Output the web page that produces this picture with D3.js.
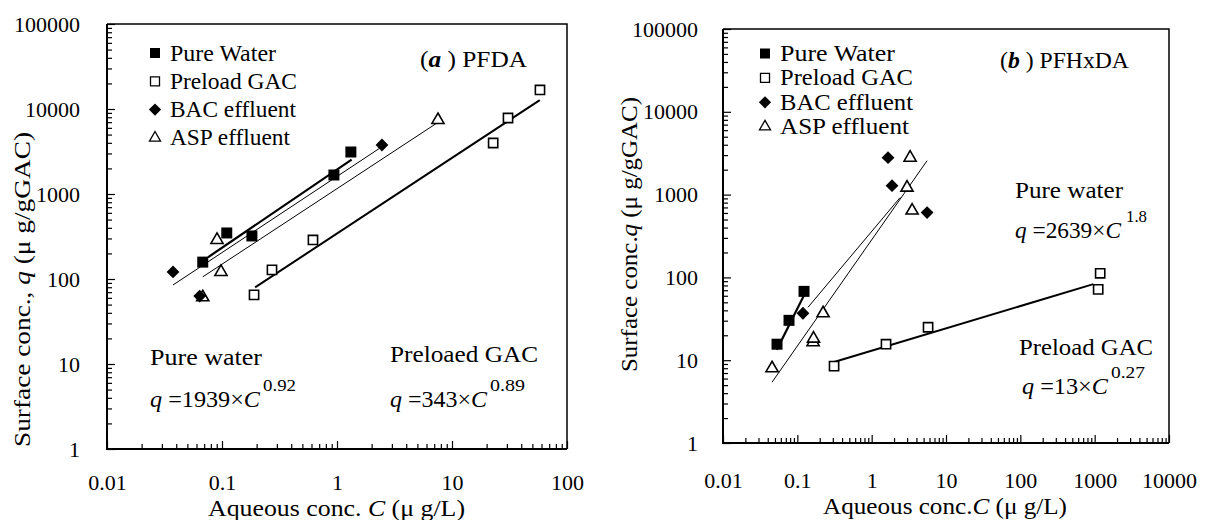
<!DOCTYPE html>
<html>
<head>
<meta charset="utf-8">
<script src="https://cdn.jsdelivr.net/npm/d3@7"></script>
<style>
  body { margin: 0; background: #fff; }
  svg { display: block; }
  text { font-family: "Liberation Serif", "Times New Roman", serif; fill: #000; }
</style>
</head>
<body>
<svg id="chart" width="1205" height="520"></svg>
<script>
const SERIF = '"Liberation Serif", "Times New Roman", serif';

// ---------- (a) PFDA : [C (ug/L), q (ug/gGAC)] ----------
const pfdaPureWater   = [[0.068, 158], [0.11, 348], [0.182, 321], [0.94, 1674], [1.32, 3120]];
const pfdaPreloadGAC  = [[0.19, 65], [0.272, 128], [0.618, 288], [22.8, 3980], [30.7, 7840], [58.2, 16750]];
const pfdaBACEffluent = [[0.0375, 121], [0.064, 63], [2.46, 3770]];
const pfdaASPEffluent = [[0.0905, 288], [0.098, 121], [0.068, 61], [7.55, 7430]];
// Freundlich fits q = K * C^n  ->  [K, n], and the C range each is drawn over
const pfdaPureFit     = [1939, 0.92];
const pfdaPureSpan    = [0.0755, 1.34];
const pfdaPreloadFit  = [343, 0.89];
const pfdaPreloadSpan = [0.194, 58];
// trend lines through the effluent sets (end points)
const pfdaBACLine = [[0.0375, 85], [2.46, 3600]];
const pfdaASPLine = [[0.068, 106], [7.4, 6840]];

// ---------- (b) PFHxDA ----------
const pfhxdaPureWater   = [[0.0533, 15.6], [0.0773, 30.3], [0.123, 67.8]];
const pfhxdaPreloadGAC  = [[0.312, 8.47], [1.56, 15.6], [5.74, 25], [1186, 112], [1115, 71.7]];
const pfhxdaBACEffluent = [[0.119, 36.9], [1.66, 2790], [1.88, 1283], [5.57, 607]];
const pfhxdaASPEffluent = [[0.0457, 8.0], [0.163, 16.5], [0.165, 18.2], [0.222, 36.9], [3.29, 2790], [2.99, 1214], [3.5, 642]];
const pfhxdaPureFit     = [2639, 1.8];
const pfhxdaPureSpan    = [0.053, 0.123];
const pfhxdaPreloadFit  = [13, 0.27];
const pfhxdaPreloadSpan = [0.312, 960];
const pfhxdaBACLine = [[0.139, 43.5], [2.41, 920]];
const pfhxdaASPLine = [[0.0457, 5.43], [5.57, 2570]];

// ---------- axes ----------
const yTicks       = [1, 10, 100, 1000, 10000, 100000];
const yTickLabels  = ["1", "10", "100", "1000", "10000", "100000"];
const xTicksA      = [0.01, 0.1, 1, 10, 100];
const xTickLabelsA = ["0.01", "0.1", "1", "10", "100"];
const xTicksB      = [0.01, 0.1, 1, 10, 100, 1000, 10000];
const xTickLabelsB = ["0.01", "0.1", "1", "10", "100", "1000", "10000"];

const legendNames = ["Pure Water", "Preload GAC", "BAC effluent", "ASP effluent"];

const svg = d3.select("#chart");

// marker painters
const markers = {
  pure:    (sel, s) => sel.append("path").attr("d", d3.symbol(d3.symbolSquare, s * s)())
                         .attr("fill", "#000").attr("stroke", "none"),
  preload: (sel, s) => sel.append("path").attr("d", d3.symbol(d3.symbolSquare, s * s)())
                         .attr("fill", "#fff").attr("stroke", "#000").attr("stroke-width", 1.6),
  bac:     (sel, s) => sel.append("path").attr("d", d3.symbol(d3.symbolSquare, s * s * 0.62)())
                         .attr("transform", "rotate(45)").attr("fill", "#000"),
  asp:     (sel, s) => sel.append("path").attr("d", d3.symbol(d3.symbolTriangle, s * s * 0.48)())
                         .attr("fill", "#fff").attr("stroke", "#000").attr("stroke-width", 1.6)
};

function minorTicks(domain) {
  const out = [];
  const lo = Math.round(Math.log10(domain[0])), hi = Math.round(Math.log10(domain[1]));
  for (let e = lo; e < hi; e++) for (let m = 2; m <= 9; m++) out.push(m * Math.pow(10, e));
  return out;
}

function txt(g, x, y, parts, size, len) {
  const t = g.append("text").attr("x", x).attr("y", y)
    .attr("font-size", size).attr("font-family", SERIF);
  parts.forEach(p => {
    const s = t.append("tspan").text(p.t);
    if (p.i) s.attr("font-style", "italic");
    if (p.b) s.attr("font-weight", "bold");
  });
  if (len) t.attr("textLength", len).attr("lengthAdjust", "spacingAndGlyphs");
  return t;
}

function drawPanel(p) {
  const x = d3.scaleLog().domain(p.xDomain).range(p.xRange);
  const y = d3.scaleLog().domain([1, 100000]).range(p.yRange);
  const g = svg.append("g");

  // minor ticks
  g.append("g").attr("transform", `translate(0,${p.yRange[0]})`)
    .call(d3.axisBottom(x).tickValues(minorTicks(p.xDomain)).tickSizeInner(-5).tickSizeOuter(0).tickFormat(""))
    .call(a => a.select(".domain").remove());
  g.append("g").attr("transform", `translate(${p.xRange[0]},0)`)
    .call(d3.axisLeft(y).tickValues(minorTicks([1, 100000])).tickSizeInner(-5).tickSizeOuter(0).tickFormat(""))
    .call(a => a.select(".domain").remove());

  // major ticks with labels
  const xa = g.append("g").attr("transform", `translate(0,${p.yRange[0]})`)
    .call(d3.axisBottom(x).tickValues(p.xTicks).tickSizeInner(-8).tickSizeOuter(0)
      .tickPadding(p.xPad).tickFormat((d, i) => p.xLabels[i]));
  xa.select(".domain").remove();
  xa.attr("font-family", SERIF).attr("font-size", 22);
  xa.selectAll("text").attr("font-size", 22).attr("font-family", SERIF);
  const ya = g.append("g").attr("transform", `translate(${p.xRange[0]},0)`)
    .call(d3.axisLeft(y).tickValues(yTicks).tickSizeInner(-8).tickSizeOuter(0)
      .tickPadding(p.yPad).tickFormat((d, i) => yTickLabels[i]));
  ya.select(".domain").remove();
  ya.attr("font-family", SERIF).attr("font-size", 22);
  ya.selectAll("text").attr("font-size", 22).attr("font-family", SERIF);
  g.selectAll(".tick line").attr("stroke", "#000").attr("stroke-width", 1.2);

  // plot frame
  const [x0, x1] = p.xRange, [yb, yt] = p.yRange;
  g.append("path").attr("d", `M${x0},${yt}H${x1}V${yb}`).attr("fill", "none")
    .attr("stroke", "#000").attr("stroke-width", 1.5);
  g.append("path").attr("d", `M${x0},${yt}V${yb}H${x1}`).attr("fill", "none")
    .attr("stroke", "#000").attr("stroke-width", 2);

  // fitted lines
  const line = d3.line().x(d => x(d[0])).y(d => y(d[1]));
  const fitPts = (fit, span) => span.map(c => [c, fit[0] * Math.pow(c, fit[1])]);
  g.append("path").attr("d", line(p.bacLine)).attr("fill", "none").attr("stroke", "#000").attr("stroke-width", 1);
  g.append("path").attr("d", line(p.aspLine)).attr("fill", "none").attr("stroke", "#000").attr("stroke-width", 1);
  g.append("path").attr("d", line(fitPts(p.pureFit, p.pureSpan))).attr("fill", "none").attr("stroke", "#000").attr("stroke-width", 2.2);
  g.append("path").attr("d", line(fitPts(p.preFit, p.preSpan))).attr("fill", "none").attr("stroke", "#000").attr("stroke-width", 2);

  // data points
  const series = [["preload", p.preload, 9.2], ["asp", p.asp, 11.5], ["bac", p.bac, 11.5], ["pure", p.pure, 11]];
  series.forEach(([kind, data, s]) => {
    data.forEach(d => {
      const m = g.append("g").attr("transform", `translate(${x(d[0])},${y(d[1])})`);
      markers[kind](m, s);
    });
  });

  // legend
  const kinds = ["pure", "preload", "bac", "asp"];
  const lsz = [10, 9, 11, 10.5];
  kinds.forEach((k, i) => {
    const yy = p.legY + i * p.legStep;
    const m = g.append("g").attr("transform", `translate(${p.legX},${yy - 7.5})`);
    markers[k](m, lsz[i]);
    m.selectAll("path").filter(function () { return d3.select(this).attr("stroke") === "#000"; })
      .attr("stroke-width", 1.3);
    txt(g, p.legX + 15, yy, [{ t: legendNames[i] }], 23, p.legLens[i]);
  });
  return g;
}

const gA = drawPanel({
  xDomain: [0.01, 100], xRange: [107, 567], yRange: [449, 24],
  xTicks: xTicksA, xLabels: xTickLabelsA, xPad: 25.5, yPad: 27,
  pure: pfdaPureWater, preload: pfdaPreloadGAC, bac: pfdaBACEffluent, asp: pfdaASPEffluent,
  pureFit: pfdaPureFit, pureSpan: pfdaPureSpan, preFit: pfdaPreloadFit, preSpan: pfdaPreloadSpan,
  bacLine: pfdaBACLine, aspLine: pfdaASPLine,
  legX: 155, legY: 60.5, legStep: 28.3, legLens: [106, 127, 126, 120]
});

const gB = drawPanel({
  xDomain: [0.01, 10000], xRange: [723, 1169], yRange: [443, 29],
  xTicks: xTicksB, xLabels: xTickLabelsB, xPad: 29, yPad: 25,
  pure: pfhxdaPureWater, preload: pfhxdaPreloadGAC, bac: pfhxdaBACEffluent, asp: pfhxdaASPEffluent,
  pureFit: pfhxdaPureFit, pureSpan: pfhxdaPureSpan, preFit: pfhxdaPreloadFit, preSpan: pfhxdaPreloadSpan,
  bacLine: pfhxdaBACLine, aspLine: pfhxdaASPLine,
  legX: 765, legY: 61, legStep: 24.4, legLens: [115, 133, 133, 129]
});

// ---------- panel titles ----------
txt(gA, 420, 67, [{ t: "(" }, { t: "a", i: true, b: true }, { t: " ) PFDA" }], 23, 107);
txt(gB, 1000, 68, [{ t: "(" }, { t: "b", i: true, b: true }, { t: " ) PFHxDA" }], 23, 129);

// ---------- axis titles ----------
txt(gA, 208, 516, [{ t: "Aqueous conc. " }, { t: "C", i: true }, { t: " (μ g/L)" }], 23, 257);
txt(gB, 823, 514, [{ t: "Aqueous conc." }, { t: "C", i: true }, { t: " (μ g/L)" }], 23, 244);

txt(gA, 0, 0, [{ t: "Surface conc., " }, { t: "q", i: true }, { t: " (μ g/gGAC)" }], 23, 315)
  .attr("transform", "translate(30,447) rotate(-90)");
txt(gB, 0, 0, [{ t: "Surface conc." }, { t: "q", i: true }, { t: " (μ g/gGAC)" }], 23, 275)
  .attr("transform", "translate(637,372) rotate(-90)");

// ---------- isotherm equations ----------
function equation(g, x, y, name, nameLen, coef, eqLen, expo, supX, supLen, nameX, nameY) {
  txt(g, nameX, nameY, [{ t: name }], 24, nameLen);
  txt(g, x, y, [{ t: "q", i: true }, { t: " =" + coef + "×" }, { t: "C", i: true }], 24, eqLen);
  txt(g, supX, y - 16, [{ t: expo }], 16, supLen);
}
equation(gA, 150, 407, "Pure water", 112, "1939", 110, "0.92", 263, 33, 150, 365);
equation(gA, 390, 407, "Preloaed GAC", 148, "343", 97, "0.89", 490, 35, 390, 362);
equation(gB, 1015, 238, "Pure water", 108, "2639", 106, "1.8", 1126, 21, 1015, 198);
equation(gB, 1022, 394, "Preload GAC", 134, "13", 86, "0.27", 1111, 34, 1019, 355);
</script>
</body>
</html>
